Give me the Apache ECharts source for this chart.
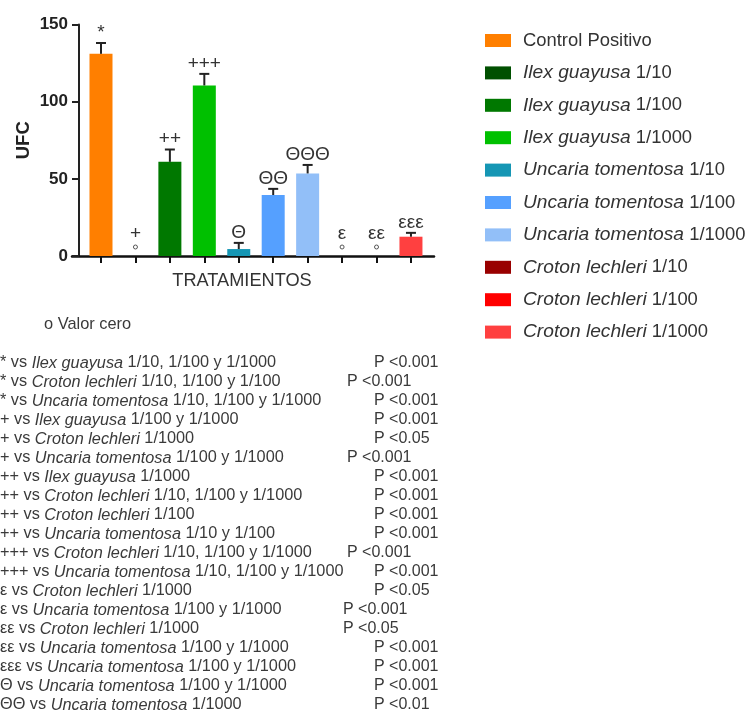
<!DOCTYPE html>
<html>
<head>
<meta charset="utf-8">
<script src="https://cdn.jsdelivr.net/npm/echarts@6/dist/echarts.min.js"></script>
<style>
html,body{margin:0;padding:0;background:#fff;}
#main{width:750px;height:711px;}
</style>
</head>
<body>
<div id="main"></div>
<script>
// ---- data ----
const species = ['Control Positivo', 'Ilex guayusa', 'Ilex guayusa', 'Ilex guayusa', 'Uncaria tomentosa', 'Uncaria tomentosa', 'Uncaria tomentosa', 'Croton lechleri', 'Croton lechleri', 'Croton lechleri'];
const dilutions = ['', '1/10', '1/100', '1/1000', '1/10', '1/100', '1/1000', '1/10', '1/100', '1/1000'];
const means = [131, 0, 61, 110.5, 4.5, 39.5, 53.5, 0, 0, 12.5];
const errors = [7, 0, 8, 7.5, 4, 4, 5.5, 0, 0, 2.5];
const signs = ['*', '+', '++', '+++', '\u0398', '\u0398\u0398', '\u0398\u0398\u0398', '\u03b5', '\u03b5\u03b5', '\u03b5\u03b5\u03b5'];
const yTicks = [0, 50, 100, 150];
const colors = ['#FF7F00', '#005000', '#007800', '#00C000', '#1596B4', '#55A0FF', '#92BFF8', '#990000', '#FF0000', '#FF4040'];
const zeroNote = 'o Valor cero';
const compPrefix = ['*', '*', '*', '+', '+', '+', '++', '++', '++', '++', '+++', '+++', '\u03b5', '\u03b5', '\u03b5\u03b5', '\u03b5\u03b5', '\u03b5\u03b5\u03b5', '\u0398', '\u0398\u0398'];
const compSpecies = ['Ilex guayusa', 'Croton lechleri', 'Uncaria tomentosa', 'Ilex guayusa', 'Croton lechleri', 'Uncaria tomentosa', 'Ilex guayusa', 'Croton lechleri', 'Croton lechleri', 'Uncaria tomentosa', 'Croton lechleri', 'Uncaria tomentosa', 'Croton lechleri', 'Uncaria tomentosa', 'Croton lechleri', 'Uncaria tomentosa', 'Uncaria tomentosa', 'Uncaria tomentosa', 'Uncaria tomentosa'];
const compDil = ['1/10, 1/100 y 1/1000', '1/10, 1/100 y 1/100', '1/10, 1/100 y 1/1000', '1/100 y 1/1000', '1/1000', '1/100 y 1/1000', '1/1000', '1/10, 1/100 y 1/1000', '1/100', '1/10 y 1/100', '1/10, 1/100 y 1/1000', '1/10, 1/100 y 1/1000', '1/1000', '1/100 y 1/1000', '1/1000', '1/100 y 1/1000', '1/100 y 1/1000', '1/100 y 1/1000', '1/1000'];
const compP = ['P <0.001', 'P <0.001', 'P <0.001', 'P <0.001', 'P <0.05', 'P <0.001', 'P <0.001', 'P <0.001', 'P <0.001', 'P <0.001', 'P <0.001', 'P <0.001', 'P <0.05', 'P <0.001', 'P <0.05', 'P <0.001', 'P <0.001', 'P <0.001', 'P <0.01'];

// ---- layout (not data) ----
const pColX = [374, 347, 374, 374, 374, 347, 374, 374, 374, 374, 347, 374, 374, 343, 343, 374, 374, 374, 374];
const FONT = '"Liberation Sans", Arial, Helvetica, sans-serif';
const names = species.map((s, i) => dilutions[i] ? s + ' ' + dilutions[i] : s);

const chart = echarts.init(document.getElementById('main'), null, {renderer: 'canvas'});

const barSeries = names.map((n, i) => ({
  name: n,
  type: 'bar',
  data: [[i, means[i]]],
  barWidth: 23,
  barGap: '-100%',
  itemStyle: {color: colors[i]},
  emphasis: {disabled: true},
  z: 2
}));

const errSeries = {
  type: 'custom',
  name: '__err',
  data: means.map((m, i) => [i, m, errors[i]]),
  encode: {x: 0, y: 1},
  z: 5,
  silent: true,
  renderItem: function (params, api) {
    const i = api.value(0), m = api.value(1), e = api.value(2);
    const base = api.coord([i, 0]);
    const top = api.coord([i, m]);
    const et = api.coord([i, m + e]);
    const children = [];
    const lineStyle = {stroke: '#222', lineWidth: 2};
    if (e > 0) {
      children.push({type: 'line', shape: {x1: top[0], y1: top[1], x2: et[0], y2: et[1]}, style: lineStyle});
      children.push({type: 'line', shape: {x1: et[0] - 5, y1: et[1], x2: et[0] + 5, y2: et[1]}, style: lineStyle});
    }
    const sign = signs[params.dataIndex];
    if (m === 0) {
      children.push({type: 'circle', shape: {cx: base[0], cy: base[1] - 9, r: 2}, style: {fill: 'none', stroke: '#555', lineWidth: 1}});
      children.push({type: 'text', x: base[0], y: base[1] - 13, style: {text: sign, fill: '#333', font: '19px ' + FONT, align: 'center', verticalAlign: 'bottom'}});
    } else {
      children.push({type: 'text', x: et[0], y: et[1] - 1, style: {text: sign, fill: '#333', font: '19px ' + FONT, align: 'center', verticalAlign: 'bottom'}});
    }
    return {type: 'group', children: children};
  }
};

const TXT = 16.3;
const richBase = {
  n: {fontFamily: FONT, fontSize: TXT, color: '#3a3a3a'},
  i: {fontFamily: FONT, fontSize: TXT, color: '#3a3a3a', fontStyle: 'italic'}
};

const graphics = [];
graphics.push({
  type: 'text', x: 44, y: 324,
  style: {text: zeroNote, font: '16.4px ' + FONT, fill: '#3a3a3a', verticalAlign: 'middle'}
});
compPrefix.forEach((p, k) => {
  const y = 363 + k * 19;
  graphics.push({
    type: 'text', x: 0, y: y,
    style: {
      text: '{n|' + p + ' vs }{i|' + compSpecies[k] + '}{n| ' + compDil[k] + '}',
      rich: richBase, verticalAlign: 'middle', font: TXT + 'px ' + FONT, fill: '#3a3a3a'
    }
  });
  graphics.push({
    type: 'text', x: pColX[k], y: y,
    style: {text: compP[k], font: '16px ' + FONT, fill: '#3a3a3a', verticalAlign: 'middle'}
  });
});

const option = {
  backgroundColor: '#fff',
  animation: false,
  grid: {left: 72, top: 24.5, width: 362, height: 231.5, containLabel: false},
  legend: {
    orient: 'vertical',
    left: 485, top: 30.5,
    padding: 0,
    itemWidth: 26, itemHeight: 13,
    itemGap: 12.4,
    icon: 'rect',
    selectedMode: false,
    data: names,
    formatter: function (name) {
      const i = names.indexOf(name);
      if (!dilutions[i]) return '{n|' + name + '}';
      return '{i|' + species[i] + '}{n| ' + dilutions[i] + '}';
    },
    textStyle: {
      fontFamily: FONT, fontSize: 18.4, color: '#333', lineHeight: 20, padding: [0, 0, 0, 7],
      rich: {
        n: {fontFamily: FONT, fontSize: 18.4, color: '#333', lineHeight: 20},
        i: {fontFamily: FONT, fontSize: 19.2, color: '#333', fontStyle: 'italic', lineHeight: 20}
      }
    }
  },
  xAxis: {
    type: 'value',
    min: -0.842, max: 9.669,
    name: 'TRATAMIENTOS',
    nameLocation: 'middle',
    nameGap: 16,
    nameTextStyle: {fontFamily: FONT, fontSize: 18.2, color: '#333', verticalAlign: 'top', padding: [0, 22, 0, 0]},
    axisLine: {show: true, onZero: false, lineStyle: {color: '#111', width: 2.5}},
    axisTick: {show: true, length: 7, lineStyle: {color: '#111', width: 2}, customValues: species.map((_, i) => i)},
    axisLabel: {show: false},
    splitLine: {show: false}
  },
  yAxis: {
    type: 'value',
    min: 0, max: 150, interval: 50,
    offset: -7,
    name: 'UFC',
    nameLocation: 'middle',
    nameRotate: 90,
    nameGap: 46,
    nameTextStyle: {fontFamily: FONT, fontSize: 18.5, fontWeight: 'bold', color: '#222'},
    axisLine: {show: true, onZero: false, lineStyle: {color: '#222', width: 2}},
    axisTick: {show: true, length: 7, lineStyle: {color: '#222', width: 2}},
    axisLabel: {fontFamily: FONT, fontSize: 17, fontWeight: 'bold', color: '#222', margin: 11,
      customValues: yTicks},
    splitLine: {show: false}
  },
  series: barSeries.concat([errSeries]),
  graphic: graphics
};
chart.setOption(option);
</script>
</body>
</html>
